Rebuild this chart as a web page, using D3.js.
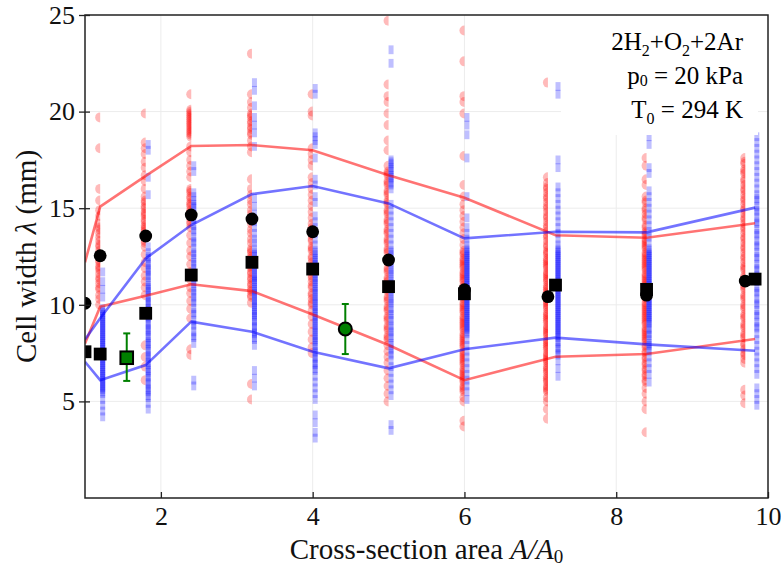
<!DOCTYPE html>
<html><head><meta charset="utf-8">
<script src="https://cdn.jsdelivr.net/npm/d3@7"></script>
<style>html,body{margin:0;padding:0;background:#fff}</style>
</head><body>
<svg id="chart" width="781" height="572"></svg>
<script>
// ---------- data ----------
const xTicks = [2, 4, 6, 8, 10];
const yTicks = [5, 10, 15, 20, 25];

const redX  = [1.2, 1.8, 2.4, 3.2, 4.0, 5.0, 6.0, 7.1, 8.4, 9.7];
const blueX = [1.2, 1.8, 2.4, 3.2, 4.0, 5.0, 6.0, 7.2, 8.4, 9.82];

const redVals = [
  [19.7,18.1,16.0,15.4,14.9,14.6,14.2,13.9,13.7,13.3,13.0,12.8,12.5,12.3,12.0,11.8,11.6,11.3,11.1,10.8,10.5,10.3,10.0],
  [19.9,18.4,18.1,17.8,17.4,17.1,16.7,16.4,16.0,15.6,15.3,15.1,14.8,14.6,14.3,14.0,13.8,13.5,13.3,13.0,12.6,12.2,11.9,11.5,11.2,10.9,10.5,7.9,7.3,6.8,6.1],
  [20.9,20.1,19.9,19.7,19.5,19.3,19.1,18.9,18.7,18.2,17.9,17.5,17.2,16.9,16.6,16.0,15.8,15.5,15.3,15.1,14.8,14.6,14.3,14.0,13.6,13.2,12.8,12.5,12.1,11.7,11.3,10.9,10.6,10.2,9.8,9.3,7.7,7.4],
  [23.0,20.9,20.5,20.2,19.9,19.7,19.4,19.1,18.8,18.5,18.2,17.9,16.5,16.0,15.7,15.4,15.2,14.9,14.7,14.4,14.2,13.9,13.7,13.4,13.2,12.9,12.7,12.4,12.2,11.9,11.6,11.3,11.0,10.7,10.4,10.1,5.9,5.1],
  [20.9,20.0,19.8,18.1,17.8,17.5,17.2,16.6,16.3,16.0,15.7,15.4,15.1,14.8,14.5,14.2,13.9,13.6,13.3,13.0,12.8,12.5,12.2,12.0,11.7,11.4,11.2,10.9,10.6,10.3,10.0,9.7,9.4,9.0,8.6,8.2,7.8,7.5],
  [24.7,21.4,20.8,20.5,19.9,19.3,18.5,18.0,17.2,16.9,16.7,16.4,16.2,15.9,15.7,15.4,15.2,14.9,14.7,14.4,14.2,13.9,13.7,13.4,13.2,12.9,12.7,12.4,12.2,11.9,11.7,11.4,11.2,10.9,10.7,10.4,10.2,9.9,9.7,9.4,9.2,8.9,8.7,8.4,8.2,7.9,7.6,7.3,7.0,6.6,6.2,5.8,5.4,5.0],
  [24.2,22.6,20.8,20.5,19.9,17.7,16.2,15.6,15.2,14.9,14.6,14.3,14.0,13.7,13.4,13.1,12.8,12.6,12.3,12.1,11.9,11.6,11.4,11.2,10.9,10.7,10.5,10.3,10.0,9.8,9.6,9.3,9.1,8.9,8.7,8.4,8.2,8.0,7.8,7.5,7.3,7.1,6.9,6.6,6.4,6.2,6.0,5.7,5.5,5.2,5.0,4.0,3.7],
  [21.5,16.6,16.3,16.0,15.8,15.5,15.3,15.0,14.8,14.5,14.3,14.0,13.8,13.5,13.3,13.0,12.8,12.6,12.3,12.1,11.9,11.6,11.4,11.2,10.9,10.7,10.5,10.2,10.0,9.8,9.5,9.3,9.1,8.8,8.6,8.4,8.1,7.9,7.7,7.4,7.2,7.0,6.7,6.5,6.2,6.0,5.7,5.5,5.2,5.0,4.6,4.1],
  [17.6,17.2,16.5,16.2,15.6,15.3,15.0,14.7,14.4,14.1,13.8,13.6,13.3,13.1,12.9,12.6,12.4,12.2,12.0,11.8,11.5,11.3,11.1,10.9,10.7,10.5,10.3,10.0,9.8,9.6,9.4,9.2,9.0,8.7,8.5,8.3,8.1,7.8,7.5,7.2,6.9,6.6,6.3,6.0,5.7,5.4,5.0,4.6,3.4],
  [17.6,17.3,17.0,16.8,16.5,16.2,16.0,15.7,15.5,15.2,15.0,14.7,14.5,14.2,14.0,13.7,13.5,13.2,13.0,12.7,12.5,12.2,12.0,11.8,11.5,11.3,11.0,10.8,10.5,10.3,10.0,9.8,9.5,9.3,9.0,8.8,8.5,8.3,8.0,7.7,7.4,7.0,5.6,5.3,4.9]
];
// further readings inside the densest bands of each red column
const redDense = [
  [14.0,13.5,13.1,12.6,12.2,11.9,11.4,10.9],
  [15.4,15.0,14.7,14.4,14.1,13.9,13.6,13.2],
  [20.0,19.8,19.6,19.4,19.2,19.0,18.8,15.9,15.6,15.2,14.9,14.5,14.2],
  [19.8,19.5,19.2,18.9,12.8,12.5,12.0,11.7,11.4,11.1,10.8,10.5],
  [14.0,13.4,12.9,12.4,11.9,11.5,11.0,10.5,10.1],
  [16.8,16.3,15.8,15.3,14.8,14.3,13.8,13.3,12.8,12.3,11.8,11.3,10.8,10.3,9.8,9.3,8.8,8.3],
  [12.7,12.4,12.2,12.0,11.7,11.5,11.3,11.0,10.8,10.6,10.4,10.1,9.9,9.7,9.4,9.2,9.0,8.8,8.5,8.3,8.1,7.9,7.6,7.4,7.2,7.0,6.7,6.5,6.3,6.1,5.8,5.6],
  [16.1,15.6,15.1,14.6,14.1,13.6,13.1,12.7,12.4,12.2,12.0,11.7,11.5,11.3,11.0,10.8,10.6,10.3,10.1,9.9,9.6,9.4,9.2,8.9,8.7,8.5,8.2,8.0,7.8,7.5,7.3,7.1,6.8,6.6,6.3,6.1,5.8,5.6],
  [15.4,14.9,14.5,14.0,13.7,13.4,13.2,13.0,12.7,12.5,12.3,12.1,11.9,11.6,11.4,11.2,11.0,10.8,10.6,10.4,10.1,9.9,9.7,9.5,9.3,9.1,8.8,8.6,8.4,8.2,7.9,7.6,7.3,7.0,6.7,6.4,6.1],
  [17.4,16.9,16.4,15.9,15.4,14.9,14.4,13.9,13.4,12.9,12.4,11.9,11.4,10.9,10.4,9.9,9.4,8.9,8.4,7.9,7.5,7.2]
];

const blueVals = [
  [11.7,11.2,10.8,10.4,9.8,9.6,9.4,9.2,9.0,8.8,8.6,8.5,8.3,8.1,7.9,7.8,7.6,7.4,7.2,7.0,6.9,6.7,6.5,6.3,6.1,6.0,5.8,5.6,5.4,5.1,4.8,4.5,4.2],
  [18.3,18.0,16.6,15.7,13.0,12.7,12.4,12.2,11.9,11.7,11.4,11.2,10.9,10.7,10.5,10.2,10.0,9.8,9.5,9.3,9.1,8.8,8.6,8.4,8.1,7.9,7.7,7.4,7.2,7.0,6.7,6.5,6.2,6.0,5.7,5.5,5.2,4.9,4.6],
  [17.2,16.9,15.8,15.6,15.4,15.2,15.0,14.7,14.4,14.1,13.8,13.5,13.2,12.9,12.6,12.4,12.1,11.9,11.6,11.4,11.1,10.9,10.6,10.4,10.1,9.8,9.5,9.2,8.9,8.6,8.3,8.0,6.1,5.8],
  [21.5,21.1,20.3,19.7,19.3,18.9,18.2,15.5,15.1,14.7,14.3,14.0,13.7,13.4,13.2,12.9,12.7,12.5,12.2,12.0,11.8,11.5,11.3,11.1,10.8,10.6,10.4,10.1,9.9,9.6,9.4,9.1,8.8,8.5,8.2,7.9,6.6,6.2,5.8],
  [21.2,20.9,18.9,18.7,18.5,18.3,17.6,16.5,16.2,15.6,15.3,14.6,14.3,14.0,13.7,13.4,13.1,12.8,12.6,12.3,12.1,11.8,11.6,11.3,11.1,10.8,10.6,10.3,10.1,9.8,9.6,9.3,9.1,8.8,8.6,8.3,8.1,7.8,7.5,7.2,6.9,6.6,6.3,6.0,5.7,5.4,5.1,4.3,3.9,3.4,3.1],
  [23.2,22.5,17.5,17.3,17.1,16.9,16.7,16.5,16.3,16.0,15.2,14.9,14.6,14.3,14.0,13.7,13.4,13.1,12.8,12.6,12.3,12.1,11.8,11.6,11.3,11.1,10.8,10.6,10.3,10.1,9.8,9.5,9.2,8.9,8.6,8.3,8.0,7.7,7.4,7.1,6.8,6.5,6.2,5.9,5.6,5.3,3.8,3.5],
  [19.7,19.3,18.8,17.6,15.6,14.5,14.0,13.7,13.4,13.1,12.9,12.7,12.5,12.3,12.1,11.9,11.7,11.5,11.3,11.1,10.9,10.7,10.5,10.3,10.1,9.9,9.7,9.5,9.3,9.1,8.9,8.7,8.5,8.2,7.9,7.6,7.3,7.0,6.7,6.4,6.1,5.8,5.5,5.1],
  [21.3,20.9,17.5,17.1,16.1,15.8,15.5,15.2,14.9,14.6,14.3,14.0,13.7,13.4,13.1,12.9,12.7,12.5,12.3,12.1,11.9,11.7,11.5,11.3,11.1,10.9,10.7,10.5,10.3,10.1,9.9,9.7,9.5,9.3,9.1,8.9,8.7,8.5,8.3,8.0,7.7,7.4,7.1,6.7,6.3],
  [18.7,18.3,17.1,16.8,15.9,15.6,15.3,15.0,14.7,14.4,14.1,13.8,13.5,13.2,12.9,12.7,12.5,12.3,12.1,11.9,11.7,11.5,11.3,11.1,10.9,10.7,10.5,10.3,10.1,9.9,9.7,9.5,9.3,9.1,8.8,8.5,8.2,7.9,7.6,7.3,7.0,6.7,6.4,6.0],
  [18.7,18.4,18.1,17.8,17.5,17.2,16.9,16.6,16.3,16.0,15.7,15.4,15.1,14.8,14.5,14.2,13.9,13.6,13.3,13.0,12.7,12.4,12.1,11.8,11.5,11.2,10.9,10.6,10.3,10.0,9.7,9.4,9.1,8.8,8.5,8.2,7.9,7.6,7.3,7.0,6.7,6.4,5.7,5.4,5.1,4.8]
];
// further readings inside the densest bands of each blue column
const blueDense = [
  [9.7,9.5,9.3,9.1,8.9,8.7,8.4,8.2,8.0,7.7,7.5,7.3,7.1,6.8,6.6,6.4,6.2,5.9,5.7,5.5],
  [12.5,12.1,11.8,11.5,11.0,10.8,10.4,10.1,9.7,9.4,9.0,8.7,8.3,8.0,7.6,7.3,6.9,6.6,6.3,5.9,5.6,5.3],
  [15.1,14.5,13.9,13.3,12.7,12.2,11.7,11.2,10.7,10.2,9.6,9.0,8.4],
  [12.6,12.3,12.1,11.9,11.6,11.4,11.2,10.9,10.7,10.5,10.2,10.0,9.7,9.5,9.2,8.9,8.6,8.3],
  [12.7,12.4,12.2,11.9,11.7,11.4,11.2,10.9,10.7,10.4,10.2,9.9,9.7,9.4,9.2,8.9,8.7,8.4,8.2,7.9,7.6,7.3,7.0,6.7],
  [17.4,17.0,16.6,16.2,12.7,12.2,11.7,11.2,10.7,10.2,9.7,9.3,8.8,8.4,7.9,7.5],
  [12.8,12.6,12.4,12.2,12.0,11.8,11.6,11.4,11.2,11.0,10.8,10.6,10.4,10.2,10.0,9.8,9.6,9.4,9.2,9.0,8.8,8.6],
  [12.8,12.6,12.4,12.2,12.0,11.8,11.6,11.4,11.2,11.0,10.8,10.6,10.4,10.2,10.0,9.8,9.6,9.4,9.2,9.0,8.8,8.6,8.4,8.1,7.8,7.5],
  [12.8,12.6,12.4,12.2,12.0,11.8,11.6,11.4,11.2,11.0,10.8,10.6,10.4,10.2,10.0,9.8,9.6,9.4,9.2,9.0,8.7,8.4,8.0,7.7],
  [15.5,14.9,14.3,13.7,13.1,12.5,11.9,11.3,10.7,10.1,9.5,8.9]
];

const lineX     = [1.0, 1.2, 1.8, 2.4, 3.2, 4.0, 5.0, 6.0, 7.2, 8.4, 9.83];
const redUpper  = [12.2, 15.08, 16.67, 18.22, 18.27, 18.0, 16.7, 15.54, 13.6, 13.47, 14.22];
const redLower  = [8.0, 9.9, 10.47, 11.06, 10.71, 9.5, 7.92, 6.1, 7.31, 7.45, 8.23];
const blueUpper = [8.2, 9.3, 12.4, 14.13, 15.73, 16.15, 15.25, 13.44, 13.78, 13.75, 15.03];
const blueLower = [7.05, 6.1, 6.88, 9.13, 8.61, 7.57, 6.71, 7.7, 8.3, 7.95, 7.62];

const meanCircleX = [1.0, 1.2, 1.8, 2.4, 3.2, 4.0, 5.0, 6.0, 7.1, 8.4, 9.7];
const meanCircleY = [10.08, 12.54, 13.56, 14.65, 14.44, 13.78, 12.32, 10.78, 10.42, 10.5, 11.23];
const meanSquareX = [1.0, 1.2, 1.8, 2.4, 3.2, 4.0, 5.0, 6.0, 7.2, 8.4, 9.83];
const meanSquareY = [7.57, 7.45, 9.56, 11.54, 12.2, 11.85, 10.94, 10.57, 11.02, 10.8, 11.33];

const greenSquare = {x: 1.55, y: 7.26, lo: 6.06, hi: 8.52};
const greenCircle = {x: 4.43, y: 8.75, lo: 7.45, hi: 10.04};

// ---------- drawing ----------
const svg = d3.select("#chart");
const L = 85, R = 768, T = 15, B = 498;
const x = d3.scaleLinear().domain([1, 10]).range([L, R]);
const y = d3.scaleLinear().domain([0, 25]).range([B, T]);
const serif = "'Liberation Serif', 'DejaVu Serif', serif";

svg.append("defs").append("clipPath").attr("id", "clip")
  .append("rect").attr("x", L).attr("y", T).attr("width", R - L).attr("height", B - T);

// grid
const grid = svg.append("g");
grid.selectAll("line.gx").data(xTicks.filter(d => d < 10)).join("line")
  .attr("x1", d => x(d)).attr("x2", d => x(d)).attr("y1", T).attr("y2", B)
  .attr("stroke", "#ececec").attr("stroke-width", 1);
grid.selectAll("line.gy").data(yTicks.filter(d => d < 25)).join("line")
  .attr("y1", d => y(d)).attr("y2", d => y(d)).attr("x1", L).attr("x2", R)
  .attr("stroke", "#ececec").attr("stroke-width", 1);

const plot = svg.append("g").attr("clip-path", "url(#clip)");

// red half discs and blue bars
const rr = 5;
const redFill = "rgba(255,0,0,0.27)", blueFill = "rgba(0,0,255,0.25)";
function drawRed(cols) {
  cols.forEach((col, i) => {
    plot.append("g").selectAll("path").data(col).join("path")
      .attr("d", v => {
        const cx = x(redX[i]), cy = y(v);
        return `M${cx},${cy - rr}A${rr},${rr} 0 0 0 ${cx},${cy + rr}Z`;
      })
      .attr("fill", redFill);
  });
}
function drawBlue(cols) {
  cols.forEach((col, i) => {
    plot.append("g").selectAll("rect").data(col).join("rect")
      .attr("x", x(blueX[i]))
      .attr("y", v => y(v) - 4.4)
      .attr("width", 5).attr("height", 8.8)
      .attr("fill", blueFill);
  });
}
drawRed(redVals); drawRed(redDense);
drawBlue(blueVals); drawBlue(blueDense);

// lines
const lineGen = vals => d3.line().x((d, i) => x(lineX[i])).y(d => y(d))(vals);
[[redUpper, "rgba(255,0,0,0.55)"], [redLower, "rgba(255,0,0,0.55)"],
 [blueUpper, "rgba(0,0,255,0.55)"], [blueLower, "rgba(0,0,255,0.55)"]].forEach(([vals, c]) => {
  plot.append("path").attr("d", lineGen(vals)).attr("fill", "none")
    .attr("stroke", c).attr("stroke-width", 2.6);
});

// mean markers
plot.append("g").selectAll("rect").data(meanSquareY).join("rect")
  .attr("x", (d, i) => x(meanSquareX[i]) - 6.4).attr("y", d => y(d) - 6.4)
  .attr("width", 12.8).attr("height", 12.8).attr("fill", "#000");
plot.append("g").selectAll("circle").data(meanCircleY).join("circle")
  .attr("cx", (d, i) => x(meanCircleX[i])).attr("cy", d => y(d)).attr("r", 6.4)
  .attr("fill", "#000");

// green markers with error bars
const green = "#008000";
[greenSquare, greenCircle].forEach(g => {
  const gx = x(g.x);
  plot.append("line").attr("x1", gx).attr("x2", gx).attr("y1", y(g.lo)).attr("y2", y(g.hi))
    .attr("stroke", green).attr("stroke-width", 2);
  [g.lo, g.hi].forEach(v => plot.append("line").attr("x1", gx - 3.5).attr("x2", gx + 3.5)
    .attr("y1", y(v)).attr("y2", y(v)).attr("stroke", green).attr("stroke-width", 2));
});
plot.append("rect").attr("x", x(greenSquare.x) - 6.3).attr("y", y(greenSquare.y) - 6.3)
  .attr("width", 12.6).attr("height", 12.6).attr("fill", green)
  .attr("stroke", "#000").attr("stroke-width", 2);
plot.append("circle").attr("cx", x(greenCircle.x)).attr("cy", y(greenCircle.y)).attr("r", 6.5)
  .attr("fill", green).attr("stroke", "#000").attr("stroke-width", 2);

// annotation box
svg.append("rect").attr("x", 561).attr("y", T + 1).attr("width", 197).attr("height", 119)
  .attr("fill", "#fff");
const ann = svg.append("text").attr("font-family", serif).attr("font-size", 25)
  .attr("text-anchor", "end").attr("fill", "#000");
const l1 = ann.append("tspan").attr("x", 743).attr("y", 50);
l1.append("tspan").text("2H");
l1.append("tspan").attr("font-size", 16).attr("dy", 6).text("2");
l1.append("tspan").attr("dy", -6).text("+O");
l1.append("tspan").attr("font-size", 16).attr("dy", 6).text("2");
l1.append("tspan").attr("dy", -6).text("+2Ar");
const l2 = svg.append("text").attr("font-family", serif).attr("font-size", 25)
  .attr("text-anchor", "end").attr("x", 743).attr("y", 84);
l2.append("tspan").text("p");
l2.append("tspan").attr("font-size", 16).attr("dy", 2).text("0");
l2.append("tspan").attr("dy", -2).text(" = 20 kPa");
const l3 = svg.append("text").attr("font-family", serif).attr("font-size", 25)
  .attr("text-anchor", "end").attr("x", 743).attr("y", 118);
l3.append("tspan").text("T");
l3.append("tspan").attr("font-size", 16).attr("dy", 6).text("0");
l3.append("tspan").attr("dy", -6).text(" = 294 K");

// axes
const xAxis = svg.append("g").attr("transform", `translate(0,${B})`)
  .call(d3.axisBottom(x).tickValues(xTicks).tickSize(-6).tickPadding(9).tickFormat(d3.format("d")));
xAxis.select(".domain").remove();
xAxis.selectAll("line").attr("stroke", "#222").attr("stroke-width", 1.3);
xAxis.selectAll("text").attr("font-family", serif).attr("font-size", 26).attr("fill", "#111");

const yAxis = svg.append("g").attr("transform", `translate(${L},0)`)
  .call(d3.axisLeft(y).tickValues(yTicks).tickSize(6).tickPadding(4).tickFormat(d3.format("d")));
yAxis.select(".domain").remove();
yAxis.selectAll("line").attr("x1", 5).attr("stroke", "#222").attr("stroke-width", 1.3);
yAxis.selectAll("text").attr("font-family", serif).attr("font-size", 26).attr("fill", "#111");

// frame
svg.append("rect").attr("x", L).attr("y", T).attr("width", R - L).attr("height", B - T)
  .attr("fill", "none").attr("stroke", "#222").attr("stroke-width", 1.5);

// axis titles
const xt = svg.append("text").attr("font-family", serif).attr("font-size", 29)
  .attr("text-anchor", "middle").attr("x", (L + R) / 2).attr("y", 559).attr("fill", "#111");
xt.append("tspan").text("Cross-section area ");
xt.append("tspan").attr("font-style", "italic").text("A/A");
xt.append("tspan").attr("font-size", 19).attr("dy", 4).text("0");

const yt = svg.append("text").attr("font-family", serif).attr("font-size", 29)
  .attr("text-anchor", "middle").attr("transform", `translate(36,${(T + B) / 2}) rotate(-90)`)
  .attr("fill", "#111");
yt.append("tspan").text("Cell width ");
yt.append("tspan").attr("font-style", "italic").text("λ");
yt.append("tspan").text(" (mm)");
</script>
</body></html>
